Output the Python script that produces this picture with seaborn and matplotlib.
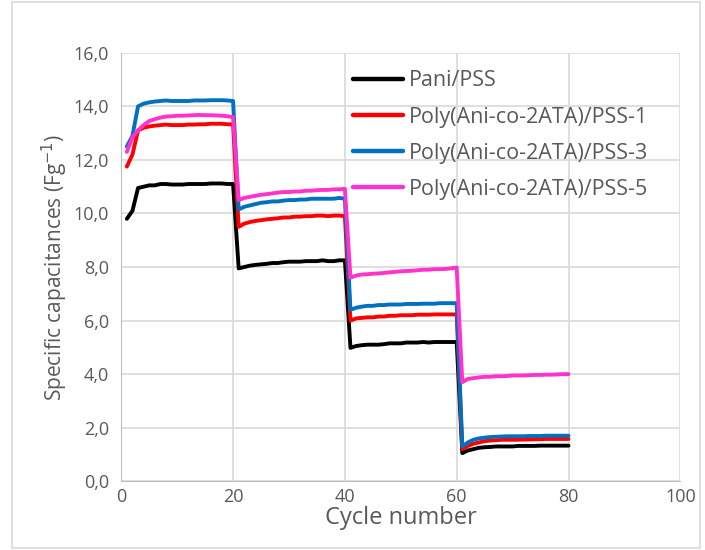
import numpy as np
import pandas as pd
import matplotlib
matplotlib.use("Agg")
import matplotlib.pyplot as plt
import seaborn as sns
from matplotlib.ticker import FuncFormatter, MultipleLocator

cycles = list(range(1, 81))

pani_pss = [9.8, 10.1, 10.95, 11.0, 11.05, 11.05, 11.1, 11.1, 11.08, 11.08, 11.08, 11.1, 11.1, 11.1, 11.1, 11.12, 11.12, 11.12, 11.1, 11.1,
            7.95, 8.0, 8.05, 8.08, 8.1, 8.12, 8.15, 8.15, 8.18, 8.2, 8.2, 8.2, 8.22, 8.22, 8.22, 8.25, 8.22, 8.22, 8.25, 8.25,
            4.98, 5.05, 5.08, 5.1, 5.1, 5.1, 5.12, 5.15, 5.15, 5.15, 5.18, 5.18, 5.18, 5.2, 5.18, 5.2, 5.2, 5.2, 5.2, 5.2,
            1.05, 1.15, 1.2, 1.25, 1.27, 1.28, 1.3, 1.3, 1.3, 1.3, 1.32, 1.32, 1.32, 1.32, 1.33, 1.33, 1.33, 1.33, 1.33, 1.33]

pss_1 = [11.75, 12.2, 13.1, 13.2, 13.25, 13.28, 13.3, 13.32, 13.3, 13.3, 13.3, 13.32, 13.32, 13.33, 13.33, 13.35, 13.35, 13.35, 13.33, 13.33,
         9.5, 9.62, 9.68, 9.72, 9.75, 9.78, 9.8, 9.82, 9.85, 9.85, 9.88, 9.88, 9.9, 9.9, 9.92, 9.92, 9.9, 9.92, 9.92, 9.9,
         6.0, 6.08, 6.1, 6.12, 6.12, 6.15, 6.15, 6.18, 6.18, 6.2, 6.2, 6.2, 6.22, 6.22, 6.22, 6.23, 6.23, 6.23, 6.23, 6.23,
         1.2, 1.32, 1.4, 1.45, 1.5, 1.52, 1.53, 1.55, 1.55, 1.55, 1.55, 1.56, 1.56, 1.57, 1.57, 1.58, 1.58, 1.58, 1.58, 1.58]

pss_3 = [12.5, 12.9, 14.0, 14.1, 14.15, 14.18, 14.2, 14.22, 14.2, 14.2, 14.2, 14.2, 14.22, 14.22, 14.22, 14.23, 14.23, 14.23, 14.22, 14.2,
         10.15, 10.25, 10.3, 10.35, 10.4, 10.42, 10.45, 10.45, 10.48, 10.5, 10.5, 10.52, 10.52, 10.55, 10.55, 10.55, 10.55, 10.55, 10.58, 10.55,
         6.4, 6.48, 6.52, 6.55, 6.55, 6.58, 6.58, 6.6, 6.6, 6.6, 6.62, 6.62, 6.62, 6.63, 6.63, 6.63, 6.65, 6.65, 6.65, 6.65,
         1.3, 1.45, 1.55, 1.6, 1.63, 1.65, 1.66, 1.67, 1.68, 1.68, 1.68, 1.68, 1.69, 1.69, 1.69, 1.7, 1.7, 1.7, 1.7, 1.7]

pss_5 = [12.3, 12.85, 13.1, 13.3, 13.45, 13.52, 13.58, 13.62, 13.63, 13.65, 13.65, 13.66, 13.67, 13.68, 13.67, 13.67, 13.66, 13.65, 13.63, 13.6,
         10.5, 10.58, 10.62, 10.66, 10.7, 10.72, 10.75, 10.78, 10.8, 10.8, 10.82, 10.82, 10.85, 10.85, 10.87, 10.88, 10.88, 10.9, 10.9, 10.92,
         7.6, 7.68, 7.72, 7.73, 7.75, 7.76, 7.78, 7.8, 7.82, 7.84, 7.85, 7.86, 7.88, 7.9, 7.9, 7.92, 7.92, 7.93, 7.95, 7.98,
         3.7, 3.82, 3.85, 3.88, 3.9, 3.9, 3.92, 3.92, 3.93, 3.95, 3.95, 3.95, 3.96, 3.97, 3.97, 3.98, 3.98, 3.99, 4.0, 4.0]

series_names = ["Pani/PSS", "Poly(Ani-co-2ATA)/PSS-1", "Poly(Ani-co-2ATA)/PSS-3", "Poly(Ani-co-2ATA)/PSS-5"]
colors = ["#000000", "#ff0000", "#0070c0", "#ff33cc"]

df = pd.concat([
    pd.DataFrame({"cycle": cycles, "cap": vals, "sample": name})
    for name, vals in zip(series_names, [pani_pss, pss_1, pss_3, pss_5])
])

sns.set_style("white")
plt.rcParams["font.family"] = ["Open Sans", "DejaVu Sans"]

fig = plt.figure(figsize=(7.05, 5.5), dpi=100)
ax = fig.add_axes([0.172, 0.125, 0.793, 0.779])

sns.lineplot(data=df, x="cycle", y="cap", hue="sample", hue_order=series_names,
             palette=colors, linewidth=2.8, ax=ax, zorder=3)

ax.set_xlim(0, 100)
ax.set_ylim(0, 16)
ax.xaxis.set_major_locator(MultipleLocator(20))
ax.yaxis.set_major_locator(MultipleLocator(2))
ax.yaxis.set_major_formatter(FuncFormatter(lambda v, p: f"{v:.1f}".replace(".", ",")))
ax.grid(True, color="#d9d9d9", linewidth=1.2)
ax.set_axisbelow(True)
for s in ["top", "right"]:
    ax.spines[s].set_visible(False)
ax.spines["left"].set_color("#bfbfbf")
ax.spines["bottom"].set_color("#bfbfbf")
ax.tick_params(axis="both", labelsize=13, colors="#595959", length=0)
ax.tick_params(axis="x", pad=5)
ax.tick_params(axis="y", pad=9)

ax.set_xlabel("Cycle number", fontsize=17, color="#595959", labelpad=0)
ax.set_ylabel("Specific capacitances (Fg$^{-1}$)", fontsize=15, color="#595959", labelpad=2)

leg = ax.legend(loc="upper left", bbox_to_anchor=(0.38, 1.004), frameon=False,
                fontsize=15.5, handlelength=2.3, labelspacing=0.7, handletextpad=0.3)
for t in leg.get_texts():
    t.set_color("#595959")
for h in leg.get_lines():
    h.set_linewidth(3.2)

fig.patches.append(plt.Rectangle((0.017, 0.004), 0.976, 0.992, transform=fig.transFigure,
                                 fill=False, edgecolor="#d9d9d9", linewidth=1.2))

fig.savefig("out.png", dpi=100)
